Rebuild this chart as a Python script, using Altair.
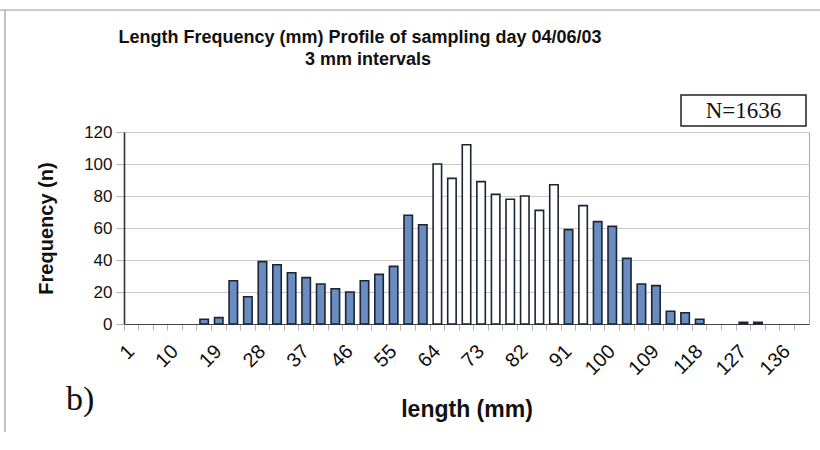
import altair as alt
import pandas as pd

# ---- data ----
lengths = list(range(1, 140, 3))  # 3 mm interval classes 1..139
freq = [0, 0, 0, 0, 0, 3, 4, 27, 17, 39, 37, 32, 29, 25, 22, 20, 27, 31, 36, 68, 62,
        100, 91, 112, 89, 81, 78, 80, 71, 87, 59, 74, 64, 61, 41, 25, 24, 8, 7, 3,
        0, 0, 1, 1, 0, 0, 0]
y_ticks = [0, 20, 40, 60, 80, 100, 120]
title_lines = ["Length Frequency (mm) Profile of sampling day 04/06/03", "3 mm intervals"]
n_label = ["N=1636"]
panel_label = ["b)"]

df = pd.DataFrame({"length": lengths, "freq": freq})

W, H = 685, 192
SANS = "Liberation Sans"
SERIF = "Liberation Serif"

base = alt.Chart(df)

bars = base.transform_filter("datum.freq > 0").mark_bar(
    width=alt.RelativeBandSize(0.58), stroke="#1b2535", strokeWidth=1.6
).encode(
    x=alt.X(
        "length:O",
        sort=None,
        scale=alt.Scale(domain=lengths, paddingInner=0, paddingOuter=0),
        axis=alt.Axis(
            title="length (mm)",
            bandPosition=0,
            labelAngle=-45,
            labelAlign="right",
            labelBaseline="middle",
            labelExpr="(datum.value - 1) % 9 == 0 ? datum.label : ''",
            labelFont=SANS,
            labelFontSize=20,
            labelColor="#111",
            labelPadding=18,
            labelOverlap=False,
            labelFlush=False,
            tickColor="#b5b5b5",
            tickSize=6,
            domainColor="#444",
            domainWidth=1.2,
            titleFont=SANS,
            titleFontSize=23,
            titleFontWeight="bold",
            titleColor="#111",
            titlePadding=20,
            grid=False,
        ),
    ),
    y=alt.Y(
        "freq:Q",
        scale=alt.Scale(domain=[0, 120], nice=False),
        axis=alt.Axis(
            values=y_ticks,
            title="Frequency (n)",
            labelFont=SANS,
            labelFontSize=17,
            labelColor="#111",
            labelPadding=4,
            tickColor="#b5b5b5",
            tickSize=8,
            domainColor="#333",
            domainWidth=1.6,
            gridColor="#c8c8c8",
            gridWidth=1,
            titleFont=SANS,
            titleFontSize=20,
            titleFontWeight="bold",
            titleColor="#111",
            titlePadding=27,
        ),
    ),
    fill=alt.condition("datum.freq >= 70", alt.value("#ffffff"), alt.value("#6b8cc0")),
)

title_df = pd.DataFrame({"t": title_lines, "row": [0, 1]})
title1 = alt.Chart(title_df).transform_filter("datum.row == 0").mark_text(
    font=SANS, fontSize=18, fontWeight="bold", color="#111"
).encode(x=alt.value(236), y=alt.value(-94), text="t:N")
title2 = alt.Chart(title_df).transform_filter("datum.row == 1").mark_text(
    font=SANS, fontSize=18, fontWeight="bold", color="#111"
).encode(x=alt.value(244), y=alt.value(-72), text="t:N")

box_df = pd.DataFrame({"t": n_label})
nbox = alt.Chart(box_df).mark_rect(fill="white", stroke="#222", strokeWidth=1.5).encode(
    x=alt.value(557), x2=alt.value(682), y=alt.value(-37), y2=alt.value(-6)
)
ntext = alt.Chart(box_df).mark_text(font=SERIF, fontSize=23, color="#111").encode(
    x=alt.value(619.5), y=alt.value(-21), text="t:N"
)

b_df = pd.DataFrame({"t": panel_label})
btext = alt.Chart(b_df).mark_text(font=SERIF, fontSize=34, color="#111", align="left").encode(
    x=alt.value(-58), y=alt.value(268), text="t:N"
)

frame_top = alt.Chart(b_df).mark_rule(color="#9a9a9a", strokeWidth=1.2).encode(
    x=alt.value(-124), x2=alt.value(696), y=alt.value(-122)
)
frame_left = alt.Chart(b_df).mark_rule(color="#9a9a9a", strokeWidth=1.2).encode(
    x=alt.value(-119), y=alt.value(-122), y2=alt.value(300)
)

chart = alt.layer(frame_top, frame_left, bars, title1, title2, nbox, ntext, btext).properties(
    width=W,
    height=H,
    autosize=alt.AutoSizeParams(type="none"),
    padding={"left": 124, "top": 132, "right": 11, "bottom": 126},
    background="white",
).configure_view(stroke="#a8a8a8", strokeWidth=1)

chart.save("out.html", embed_options={"renderer": "svg", "actions": False})
